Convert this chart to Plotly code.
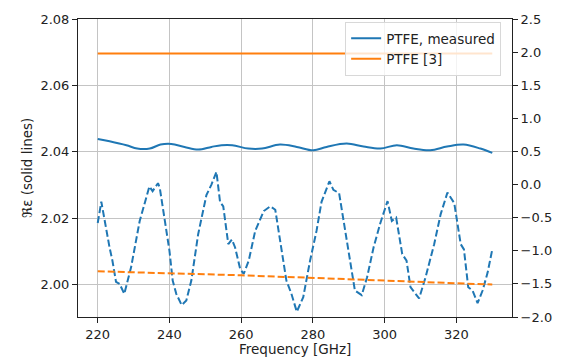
import plotly.graph_objects as go

# Measured real part (left axis)
f_re_meas = [220, 223.3, 228, 231, 234.5, 237.5, 240.5, 244.2, 248, 251.7, 254.5, 257.5, 262, 265.8,
             270.8, 275.5, 280.1, 283.8, 289.4, 294.1, 298.8, 303.4, 308, 312.7, 317.4, 322, 326.7, 330]
re_meas = [2.0439, 2.0432, 2.0420, 2.0410, 2.0410, 2.0422, 2.0424, 2.0415, 2.0407, 2.0415, 2.0420, 2.0420,
           2.0410, 2.0410, 2.0422, 2.0415, 2.0405, 2.0415, 2.0425, 2.0416, 2.0410, 2.0420, 2.0410, 2.0405,
           2.0416, 2.0422, 2.0410, 2.0397]

# Reference real part (left axis)
f_re_ref = [220, 330]
re_ref = [2.0696, 2.0696]

# Measured imaginary part x10^3 (right axis)
f_im_meas = [220, 221.0, 223.3, 224.1, 225.1, 226.1, 227.4, 229.3, 231.7, 233.1, 234.4, 235.3, 236.8, 237.3,
             238.7, 240.0, 240.9, 241.9, 243.4, 244.7, 246.1, 248.0, 250.3, 251.7, 253.1, 254.1, 255.0,
             256.4, 257.4, 258.3, 259.7, 260.7, 262.1, 263.9, 266.3, 268.1, 269.5, 270.8, 272.6, 274.0,
             275.5, 277.3, 279.2, 281.0, 282.4, 284.6, 285.7, 287.3, 289.0, 290.4, 291.7, 293.6, 295.1,
             296.9, 298.8, 300.8, 302.0, 303.2, 304.9, 306.1, 307.2, 309.6, 311.4, 313.8, 315.6, 317.5,
             319.4, 321.2, 322.1, 323.3, 324.5, 325.9, 327.3, 328.7, 330.0]
im_meas = [-0.58, -0.26, -0.95, -1.15, -1.47, -1.50, -1.65, -1.25, -0.55, -0.30, -0.03, -0.10, 0.02, -0.05,
           -0.55, -1.00, -1.45, -1.65, -1.82, -1.75, -1.45, -0.75, -0.16, 0.00, 0.19, -0.26, -0.33,
           -0.90, -0.83, -0.95, -1.27, -1.35, -1.15, -0.70, -0.40, -0.33, -0.38, -0.85, -1.45, -1.65,
           -1.92, -1.70, -1.15, -0.70, -0.26, 0.05, -0.08, -0.13, -0.70, -1.10, -1.60, -1.67, -1.40,
           -0.95, -0.58, -0.25, -0.55, -0.50, -1.05, -1.15, -1.55, -1.72, -1.40, -0.90, -0.45, -0.12,
           -0.28, -0.90, -0.98, -1.55, -1.60, -1.79, -1.60, -1.33, -0.98]

# Reference imaginary part x10^3 (right axis)
f_im_ref = [220, 260, 300, 330]
im_ref = [-1.31, -1.37, -1.45, -1.51]

x_ticks = [220, 240, 260, 280, 300, 320]
y_ticks = [2.00, 2.02, 2.04, 2.06, 2.08]
y2_ticks = [-2.0, -1.5, -1.0, -0.5, 0.0, 0.5, 1.0, 1.5, 2.0, 2.5]

BLUE = "#1f77b4"
ORANGE = "#ff7f0e"
FONT = "DejaVu Sans"
DASH = "7px,3px"

fig = go.Figure()
fig.add_trace(go.Scatter(x=f_im_meas, y=im_meas, yaxis="y2", mode="lines", showlegend=False,
                         line=dict(color=BLUE, width=2, dash=DASH)))
fig.add_trace(go.Scatter(x=f_im_ref, y=im_ref, yaxis="y2", mode="lines", showlegend=False,
                         line=dict(color=ORANGE, width=2, dash=DASH)))
fig.add_trace(go.Scatter(x=f_re_meas, y=re_meas, mode="lines", name="PTFE, measured",
                         line=dict(color=BLUE, width=2, shape="spline")))
fig.add_trace(go.Scatter(x=f_re_ref, y=re_ref, mode="lines", name="PTFE [3]",
                         line=dict(color=ORANGE, width=2)))

axis_common = dict(showline=True, linecolor="#222", linewidth=1, ticks="outside", ticklen=5,
                   tickcolor="#222", tickwidth=1, zeroline=False,
                   tickfont=dict(family=FONT, size=13, color="#222"))

fig.update_layout(
    width=564, height=359,
    margin=dict(l=78, r=52, t=14, b=42),
    paper_bgcolor="white", plot_bgcolor="white",
    font=dict(family=FONT, size=13, color="#222"),
    xaxis=dict(range=[214.5, 335.5], tickvals=x_ticks, showgrid=True, gridcolor="#c4c4c4",
               gridwidth=1, mirror=True, **axis_common),
    yaxis=dict(range=[1.9903, 2.08], tickvals=y_ticks, tickformat=".2f", showgrid=True,
               gridcolor="#c4c4c4", gridwidth=1, **axis_common),
    yaxis2=dict(range=[-2.0, 2.5], tickvals=y2_ticks, tickformat=".1f", overlaying="y", side="right",
                showgrid=False, **axis_common),
    legend=dict(x=0.975, y=0.99, xanchor="right", yanchor="top", bgcolor="rgba(255,255,255,0.8)",
                bordercolor="#d8d8d8", borderwidth=1, font=dict(family=FONT, size=13.5, color="#222"),
                tracegroupgap=0, itemwidth=30),
    annotations=[
        dict(text="Frequency [GHz]", xref="paper", yref="paper", x=0.5, y=-0.106,
             xanchor="center", yanchor="middle", showarrow=False, font=dict(family=FONT, size=13.5)),
        dict(text="ℜε (solid lines)", xref="paper", yref="paper", x=-0.118, y=0.5, textangle=-90,
             xanchor="center", yanchor="middle", showarrow=False, font=dict(family=FONT, size=13.5)),
        dict(text="ℑε · 10³ (dashed lines)", xref="paper", yref="paper", x=1.135, y=0.5, textangle=-90,
             xanchor="center", yanchor="middle", showarrow=False, font=dict(family=FONT, size=13.5)),
    ],
)

fig.write_html("out.html")
